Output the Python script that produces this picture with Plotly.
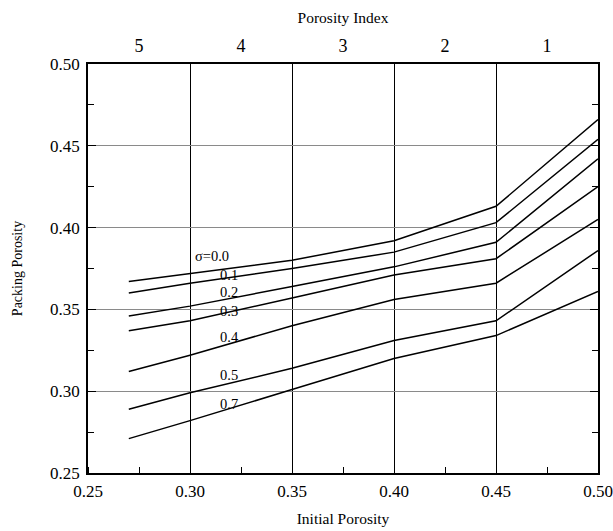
import plotly.graph_objects as go

# ---- data ----
initial_porosity = [0.27, 0.30, 0.35, 0.40, 0.45, 0.50]

sigma_names = ["σ=0.0", "0.1", "0.2", "0.3", "0.4", "0.5", "0.7"]
sigma_00 = [0.367, 0.372, 0.380, 0.392, 0.413, 0.466]
sigma_01 = [0.360, 0.366, 0.375, 0.385, 0.403, 0.454]
sigma_02 = [0.346, 0.352, 0.364, 0.376, 0.391, 0.442]
sigma_03 = [0.337, 0.343, 0.357, 0.371, 0.381, 0.425]
sigma_04 = [0.312, 0.322, 0.340, 0.356, 0.366, 0.405]
sigma_05 = [0.289, 0.299, 0.314, 0.331, 0.343, 0.386]
sigma_07 = [0.271, 0.282, 0.301, 0.320, 0.334, 0.361]
series = [sigma_00, sigma_01, sigma_02, sigma_03, sigma_04, sigma_05, sigma_07]

# curve label anchor points (data coords)
label_x = [0.3015, 0.3137, 0.3137, 0.3135, 0.3137, 0.3137, 0.3137]
label_y = [0.3826, 0.3712, 0.3605, 0.3493, 0.3334, 0.3101, 0.2920]

x_ticks = [0.25, 0.30, 0.35, 0.40, 0.45, 0.50]
x_tick_text = ["0.25", "0.30", "0.35", "0.40", "0.45", "0.50"]
y_ticks = [0.25, 0.30, 0.35, 0.40, 0.45, 0.50]
y_tick_text = ["0.25", "0.30", "0.35", "0.40", "0.45", "0.50"]
index_pos = [0.275, 0.325, 0.375, 0.425, 0.475]
index_text = ["5", "4", "3", "2", "1"]

FONT = "Liberation Serif, Times New Roman, serif"

fig = go.Figure()
for ys in series:
    fig.add_trace(go.Scatter(x=initial_porosity, y=ys, mode="lines",
                             line=dict(color="black", width=1.5),
                             showlegend=False, hoverinfo="skip"))

# invisible trace to activate the top axis
fig.add_trace(go.Scatter(x=[x_ticks[0], x_ticks[-1]], y=[y_ticks[0], y_ticks[0]],
                         xaxis="x2", mode="markers", marker=dict(opacity=0),
                         showlegend=False, hoverinfo="skip"))

for name, lx, ly in zip(sigma_names, label_x, label_y):
    fig.add_annotation(x=lx, y=ly, text=name, showarrow=False, xanchor="left",
                       yanchor="middle", font=dict(family=FONT, size=14.5, color="black"))

fig.update_layout(
    width=613, height=531,
    margin=dict(l=88, r=15, t=64, b=58),
    paper_bgcolor="white", plot_bgcolor="white",
    font=dict(family=FONT, color="black"),
    xaxis=dict(
        range=[0.25, 0.50], tickvals=x_ticks, ticktext=x_tick_text,
        automargin=False,
        showgrid=True, gridcolor="black", gridwidth=1,
        showline=True, linecolor="black", linewidth=1.5, mirror=True,
        ticks="", zeroline=False, ticklabelstandoff=2,
        minor=dict(ticks="inside", ticklen=6, tickcolor="black", tickwidth=1,
                   dtick=0.025, tick0=0.25, showgrid=False),
        tickfont=dict(family=FONT, size=17),
        title=dict(text="Initial Porosity", font=dict(family=FONT, size=15.5), standoff=13),
    ),
    xaxis2=dict(
        range=[0.25, 0.50], overlaying="x", side="top", automargin=False,
        tickvals=index_pos, ticktext=index_text, ticks="",
        showgrid=False, showline=False, zeroline=False, ticklabelstandoff=7,
        tickfont=dict(family=FONT, size=18),
        title=dict(text="Porosity Index", font=dict(family=FONT, size=15.5), standoff=8),
    ),
    yaxis=dict(
        range=[0.25, 0.50], tickvals=y_ticks, ticktext=y_tick_text,
        automargin=False,
        showgrid=True, gridcolor="#8a8a8a", gridwidth=1,
        showline=True, linecolor="black", linewidth=1.5, mirror="ticks",
        ticks="inside", ticklen=8, tickcolor="black", tickwidth=1, zeroline=False,
        ticklabelstandoff=3,
        minor=dict(ticks="inside", ticklen=6, tickcolor="black", tickwidth=1,
                   dtick=0.025, tick0=0.25, showgrid=False),
        tickfont=dict(family=FONT, size=17),
        title=dict(text="Packing Porosity", font=dict(family=FONT, size=14), standoff=24),
    ),
)

fig.write_html("out.html")
